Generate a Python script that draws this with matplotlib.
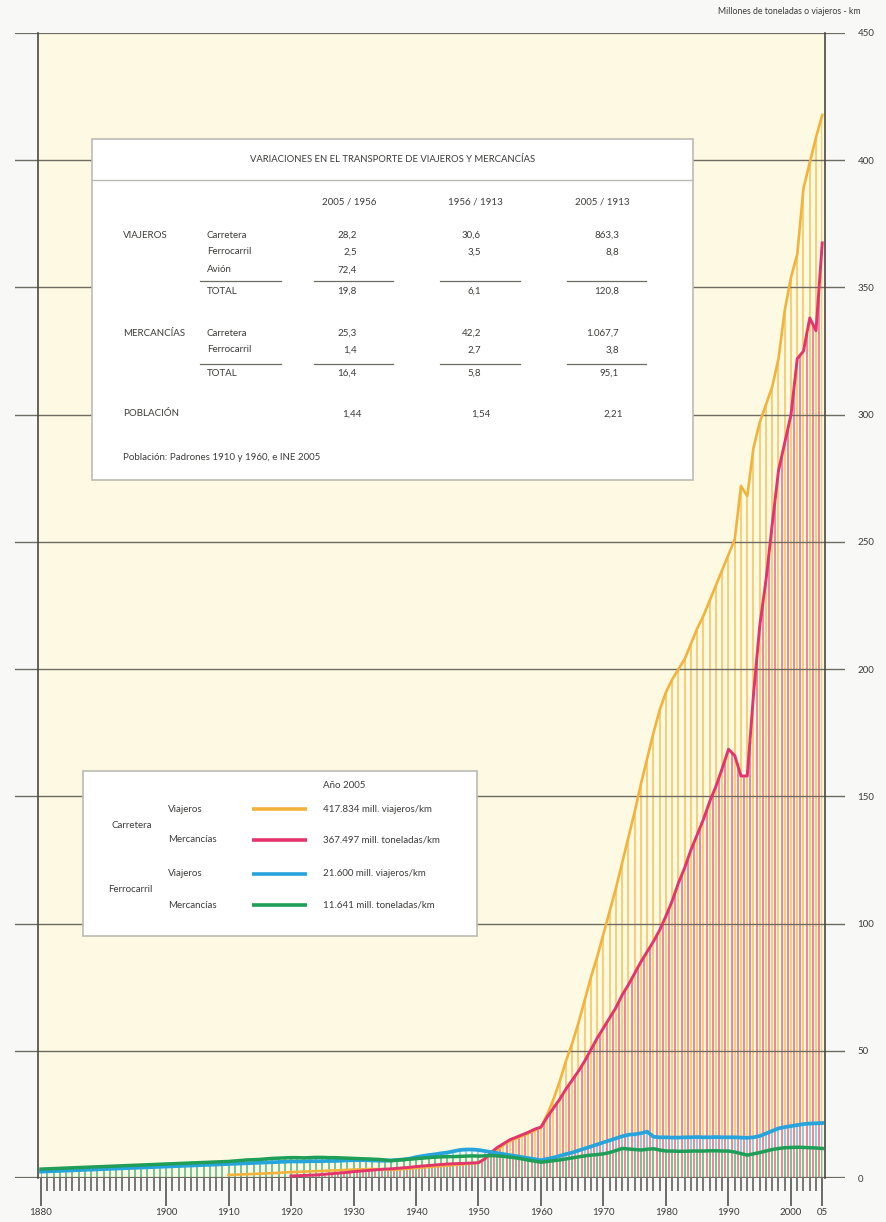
import matplotlib
matplotlib.use("Agg")
import matplotlib.pyplot as plt
from matplotlib.patches import Rectangle

plt.rcParams['font.family'] = ['Lato', 'DejaVu Sans']

# ---------------- DATA ----------------
rail_years = list(range(1880, 2006))
rail_pass = [
    2.5, 2.6, 2.7, 2.8, 2.9, 3.0, 3.1, 3.2, 3.3, 3.4,
    3.5, 3.6, 3.7, 3.8, 3.9, 4.0, 4.1, 4.2, 4.3, 4.4,
    4.5, 4.6, 4.7, 4.8, 4.9, 5.0, 5.1, 5.2, 5.3, 5.4,
    5.5, 5.6, 5.7, 5.8, 5.9, 6.0, 6.1, 6.2, 6.3, 6.4,
    6.5, 6.5, 6.5, 6.6, 6.6, 6.6, 6.7, 6.7, 6.8, 6.9,
    7.0, 7.0, 7.0, 6.9, 6.8, 6.8, 6.9, 7.1, 7.3, 7.6,
    8.2, 8.6, 9.0, 9.3, 9.7, 10.0, 10.5, 11.0, 11.2, 11.2,
    11.0, 10.6, 10.2, 9.8, 9.4, 9.0, 8.6, 8.2, 7.8, 7.4,
    7.0, 7.5, 8.0, 8.7, 9.4, 10.0, 10.8, 11.6, 12.4, 13.2,
    14.0, 14.8, 15.6, 16.4, 17.0, 17.2, 17.6, 18.2, 16.2, 16.0,
    16.0, 15.9, 15.9, 16.0, 16.0, 16.1, 16.0, 16.0, 16.1, 16.0,
    16.0, 16.0, 15.9, 15.8, 16.0, 16.5, 17.5, 18.5, 19.5, 20.0,
    20.4, 20.8, 21.2, 21.4, 21.5, 21.6,
]
rail_freight = [
    3.5, 3.6, 3.7, 3.8, 3.9, 4.0, 4.1, 4.2, 4.3, 4.4,
    4.5, 4.6, 4.7, 4.8, 4.9, 5.0, 5.1, 5.2, 5.3, 5.4,
    5.5, 5.6, 5.7, 5.8, 5.9, 6.0, 6.1, 6.2, 6.3, 6.4,
    6.5, 6.7, 6.9, 7.1, 7.2, 7.3, 7.5, 7.7, 7.8, 7.9,
    8.0, 8.0, 7.9, 8.0, 8.1, 8.1, 8.0, 8.0, 7.9, 7.8,
    7.7, 7.6, 7.5, 7.4, 7.3, 7.1, 6.8, 7.0, 7.2, 7.4,
    7.6, 7.8, 8.0, 8.2, 8.3, 8.4, 8.4, 8.5, 8.6, 8.7,
    8.6, 8.7, 8.8, 8.7, 8.5, 8.2, 7.9, 7.5, 7.0, 6.6,
    6.2, 6.5, 6.8, 7.1, 7.5, 7.9, 8.3, 8.7, 9.0, 9.2,
    9.5, 10.0, 10.8, 11.6, 11.4, 11.2, 11.0, 11.3, 11.5, 11.0,
    10.6, 10.6, 10.5, 10.5, 10.6, 10.6, 10.6, 10.7, 10.7, 10.6,
    10.6, 10.2, 9.6, 9.0, 9.5, 10.0, 10.6, 11.2, 11.6, 11.9,
    12.0, 12.1, 12.0, 11.9, 11.8, 11.6,
]
road_pass_years = list(range(1910, 2006))
road_pass = [
    1.2, 1.3, 1.4, 1.5, 1.6, 1.7, 1.8, 1.9, 2.0, 2.2,
    2.3, 2.4, 2.5, 2.6, 2.7, 2.8, 2.9, 3.0, 3.1, 3.2,
    3.3, 3.4, 3.5, 3.5, 3.5, 3.4, 3.2, 3.3, 3.5, 3.7,
    3.9, 4.1, 4.3, 4.5, 4.7, 4.9, 5.1, 5.3, 5.5, 5.7,
    6.0, 7.5, 9.0, 11.0, 13.0, 14.5, 15.5, 16.5, 17.5, 18.7,
    20, 25, 31, 38, 46, 53, 61, 70, 79, 87,
    96, 105, 114, 124, 134, 144, 155, 165, 175, 184,
    191, 196, 200, 204, 210, 216, 221, 227, 233, 239,
    245, 251, 272, 268, 287, 297, 304, 311, 322, 341,
    354, 363, 389, 399, 409, 417.8,
]
road_freight_years = list(range(1920, 2006))
road_freight = [
    0.8, 0.9, 1.0, 1.1, 1.2, 1.4, 1.6, 1.8, 2.0, 2.2,
    2.5, 2.7, 2.9, 3.1, 3.3, 3.5, 3.6, 3.8, 4.0, 4.2,
    4.5, 4.7, 4.9, 5.1, 5.3, 5.5, 5.6, 5.7, 5.8, 5.9,
    6.0, 7.5, 10.0, 12.0, 13.5, 15.0, 16.0, 17.0, 18.0, 19.2,
    20, 24, 27.5, 31, 35, 38.5, 42, 46, 50.5, 55,
    59, 63, 67, 72, 76, 80.5, 85, 89, 93, 97.5,
    103, 109, 116, 122, 129, 135, 141, 148, 154, 161,
    168.5, 166, 158, 158, 190, 217, 235, 257, 278, 289,
    300, 322, 325, 338, 333, 367.5,
]

y_ticks = [0, 50, 100, 150, 200, 250, 300, 350, 400, 450]
x_major_years = [1880, 1900, 1910, 1920, 1930, 1940, 1950, 1960, 1970, 1980, 1990, 2000, 2005]
x_major_labels = ['1880', '1900', '1910', '1920', '1930', '1940', '1950', '1960', '1970', '1980', '1990', '2000', '05']
unit_label = 'Millones de toneladas o viajeros - km'

table_title = 'VARIACIONES EN EL TRANSPORTE DE VIAJEROS Y MERCANCÍAS'
table_cols = ['2005 / 1956', '1956 / 1913', '2005 / 1913']
viaj_rows = ['Carretera', 'Ferrocarril', 'Avión']
viaj_vals = [['28,2', '30,6', '863,3'], ['2,5', '3,5', '8,8'], ['72,4', '', '']]
viaj_total = ['19,8', '6,1', '120,8']
merc_rows = ['Carretera', 'Ferrocarril']
merc_vals = [['25,3', '42,2', '1.067,7'], ['1,4', '2,7', '3,8']]
merc_total = ['16,4', '5,8', '95,1']
poblacion = ['1,44', '1,54', '2,21']
table_note = 'Población: Padrones 1910 y 1960, e INE 2005'

legend_year = 'Año 2005'
legend_groups = ['Carretera', 'Ferrocarril']
legend_kinds = ['Viajeros', 'Mercancías', 'Viajeros', 'Mercancías']
legend_values = ['417.834 mill. viajeros/km', '367.497 mill. toneladas/km',
                 '21.600 mill. viajeros/km', '11.641 mill. toneladas/km']

# ---------------- STYLE ----------------
C_YEL, C_YEL_H = '#F3B33A', '#F6C969'
C_RED, C_RED_H = '#E3346B', '#EE7599'
C_BLU, C_BLU_H = '#28A4DC', '#7FD0EE'
C_GRN, C_GRN_H = '#1E9E57', '#6CC78F'
C_GRID = '#6E6B63'
C_TXT = '#3C3C3A'
CREAM = '#FDF9E2'

W, H = 886, 1222
fig = plt.figure(figsize=(W / 100, H / 100), dpi=100)
fig.patch.set_facecolor('#F8F8F6')

ax = fig.add_axes([15 / W, 1 - 1178 / H, 830 / W, 1145 / H])
ax.set_xlim(1875.84, 2008.64)
ax.set_ylim(0, 450)
ax.set_facecolor('none')
for s in ax.spines.values():
    s.set_visible(False)

ax.add_patch(Rectangle((1879.5, 0), 126, 450, facecolor=CREAM, edgecolor='none', zorder=0))

# hatch areas (vertical lines clipped to the area under each curve)
def hatch(xs, yr, vals, color, lw, z):
    poly = ax.fill_between(yr, 0, vals, facecolor='none', edgecolor='none', zorder=z)
    lc = ax.vlines(xs, 0, 450, colors=color, linewidth=lw, zorder=z)
    lc.set_clip_path(poly.get_paths()[0], ax.transData)

hatch([y for y in range(1910, 2006)], road_pass_years, road_pass, C_YEL_H, 1.25, 1.0)
hatch([y + 0.5 for y in range(1920, 2005)], road_freight_years, road_freight, C_RED_H, 1.25, 1.1)
hatch([y for y in range(1880, 2006)], rail_years, rail_pass, C_BLU_H, 1.25, 1.2)
hatch([y for y in range(1880, 2006)], rail_years, rail_freight, C_GRN_H, 1.25, 1.3)

# gridlines
for yv in y_ticks:
    ax.axhline(yv, color=C_GRID, lw=1.6 if yv in (0, 450) else 1.0, zorder=2)

# borders
ax.plot([1879.5, 1879.5], [0, 450], color='#4A4843', lw=1.2, zorder=2.5, clip_on=False)
ax.plot([2005.5, 2005.5], [0, 450], color='#4A4843', lw=1.2, zorder=2.5, clip_on=False)

# curves
ax.plot(road_pass_years, road_pass, color=C_YEL, lw=1.9, zorder=3, solid_joinstyle='round')
ax.plot(road_freight_years, road_freight, color=C_RED, lw=2.1, zorder=3.1, solid_joinstyle='round')
ax.plot(rail_years, rail_pass, color=C_BLU, lw=2.7, zorder=3.2, solid_joinstyle='round')
ax.plot(rail_years, rail_freight, color=C_GRN, lw=2.5, zorder=3.3, solid_joinstyle='round')

# axes ticks
ax.set_xticks(x_major_years)
ax.set_xticklabels(x_major_labels)
ax.set_xticks([y for y in range(1880, 2006) if y not in x_major_years], minor=True)
ax.tick_params(axis='x', which='major', direction='out', length=20, width=1.2,
               color='#55534E', pad=1.5, labelsize=7, labelcolor=C_TXT)
ax.tick_params(axis='x', which='minor', direction='out', length=9, width=1.1, color='#55534E')
ax.yaxis.set_ticks_position('right')
ax.set_yticks(y_ticks)
ax.set_yticklabels([str(v) for v in y_ticks])
ax.tick_params(axis='y', length=0, pad=9, labelsize=7, labelcolor=C_TXT)

fig.text(860 / W, 1 - 12 / H, unit_label, ha='right', va='center', fontsize=6.3, color=C_TXT)

# ---------------- OVERLAY (table + legend) ----------------
ov = fig.add_axes([0, 0, 1, 1], zorder=10)
ov.set_xlim(0, W)
ov.set_ylim(H, 0)
ov.axis('off')
ov.patch.set_alpha(0)

fs = 7.0

# table
ov.add_patch(Rectangle((92, 139), 601, 341, facecolor='white', edgecolor='#BCBBB3', lw=1.2))
ov.plot([92, 693], [180, 180], color='#BCBBB3', lw=1.0)
ov.text(392.5, 160, table_title, ha='center', va='center', fontsize=6.8, color=C_TXT)
col_c = [349, 475, 602]
col_r = [357, 481, 619]
for cx, t in zip(col_c, table_cols):
    ov.text(cx, 202, t, ha='center', va='center', fontsize=fs, color=C_TXT)

ov.text(123, 235, 'VIAJEROS', ha='left', va='center', fontsize=fs, color=C_TXT)
for yy, lab, vals in zip([235, 252, 270], viaj_rows, viaj_vals):
    ov.text(207, yy, lab, ha='left', va='center', fontsize=fs, color=C_TXT)
    for xr, v in zip(col_r, vals):
        ov.text(xr, yy, v, ha='right', va='center', fontsize=fs, color=C_TXT)
segs = [(200, 281), (314, 393), (440, 520), (567, 646)]
for a, b in segs:
    ov.plot([a, b], [281, 281], color='#6E6B63', lw=0.9)
ov.text(207, 291, 'TOTAL', ha='left', va='center', fontsize=fs, color=C_TXT)
for xr, v in zip(col_r, viaj_total):
    ov.text(xr, 291, v, ha='right', va='center', fontsize=fs, color=C_TXT)

ov.text(123, 333, 'MERCANCÍAS', ha='left', va='center', fontsize=fs, color=C_TXT)
for yy, lab, vals in zip([333, 350], merc_rows, merc_vals):
    ov.text(207, yy, lab, ha='left', va='center', fontsize=fs, color=C_TXT)
    for xr, v in zip(col_r, vals):
        ov.text(xr, yy, v, ha='right', va='center', fontsize=fs, color=C_TXT)
for a, b in segs:
    ov.plot([a, b], [364, 364], color='#6E6B63', lw=0.9)
ov.text(207, 373, 'TOTAL', ha='left', va='center', fontsize=fs, color=C_TXT)
for xr, v in zip(col_r, merc_total):
    ov.text(xr, 373, v, ha='right', va='center', fontsize=fs, color=C_TXT)

ov.text(123, 414, 'POBLACIÓN', ha='left', va='center', fontsize=fs, color=C_TXT)
for xr, v in zip([362, 491, 623], poblacion):
    ov.text(xr, 414, v, ha='right', va='center', fontsize=fs, color=C_TXT)
ov.text(123, 458, table_note, ha='left', va='center', fontsize=fs, color=C_TXT)

# legend
ov.add_patch(Rectangle((83, 771), 394, 165, facecolor='white', edgecolor='#BCBBB3', lw=1.2))
ov.text(323, 785, legend_year, ha='left', va='center', fontsize=fs, color=C_TXT)
ov.text(112, 826, legend_groups[0], ha='left', va='center', fontsize=fs, color=C_TXT)
ov.text(108, 890, legend_groups[1], ha='left', va='center', fontsize=fs, color=C_TXT)
for yy, kind, val, col in zip([809, 840, 874, 905], legend_kinds, legend_values,
                              [C_YEL, C_RED, C_BLU, C_GRN]):
    ov.text(168, yy, kind, ha='left', va='center', fontsize=fs, color=C_TXT)
    ov.plot([252, 307], [yy, yy], color=col, lw=2.6, solid_capstyle='butt')
    ov.text(323, yy, val, ha='left', va='center', fontsize=fs, color=C_TXT)

fig.savefig('out.png', dpi=100, facecolor=fig.get_facecolor())
